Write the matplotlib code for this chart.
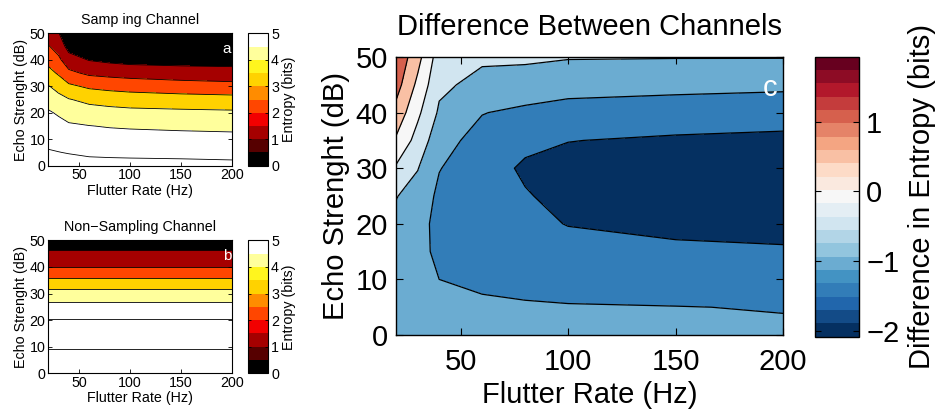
import numpy as np
import matplotlib
matplotlib.use("Agg")
import matplotlib.pyplot as plt
from matplotlib.colors import ListedColormap, Normalize
from matplotlib.cm import ScalarMappable

plt.rcParams['font.family'] = ['Liberation Sans', 'DejaVu Sans']
plt.rcParams['axes.unicode_minus'] = True
plt.rcParams['contour.negative_linestyle'] = 'solid'

# ---------------- data ----------------
flutter_rate = [20, 30, 40, 60, 80, 100, 150, 200]          # Hz
echo_strength = [0, 5, 10, 15, 20, 25, 30, 35, 40, 45, 50]  # dB

# Sampling channel entropy (bits); one list per flutter rate, values along echo strength
samp_20 = [6.4, 6.08, 5.75, 5.43, 5.11, 4.63, 4.06, 3.33, 2.67, 2.08, 1.48]
samp_30 = [6.4, 6.02, 5.66, 5.29, 4.89, 4.32, 3.65, 2.87, 2.2, 1.6, 1.05]
samp_40 = [6.37, 5.96, 5.55, 5.13, 4.61, 4.05, 3.19, 2.22, 1.41, 0.65, 0.2]
samp_60 = [6.29, 5.86, 5.44, 5.02, 4.43, 3.75, 2.83, 1.81, 0.95, 0.45, 0.15]
samp_80 = [6.27, 5.83, 5.39, 4.94, 4.34, 3.61, 2.69, 1.69, 0.78, 0.35, 0.1]
samp_100 = [6.26, 5.81, 5.37, 4.89, 4.27, 3.52, 2.59, 1.6, 0.66, 0.3, 0.1]
samp_150 = [6.25, 5.77, 5.32, 4.82, 4.21, 3.42, 2.43, 1.47, 0.6, 0.3, 0.1]
samp_200 = [6.2, 5.74, 5.28, 4.77, 4.16, 3.35, 2.32, 1.4, 0.57, 0.3, 0.1]

# Non-sampling channel entropy (bits): independent of flutter rate
nonsamp_rate = [20, 200]
nonsamp_profile = [7.4, 7.2, 6.96, 6.5, 6.08, 5.33, 4.4, 3.25, 2.0, 1.17, 0.5]

# Difference in entropy (bits)
diff_20 = [-0.8, -0.78, -0.75, -0.7, -0.62, -0.48, -0.07, 0.43, 0.83, 1.2, 1.4]
diff_30 = [-0.85, -0.86, -0.87, -0.86, -0.82, -0.7, -0.48, -0.19, 0.1, 0.385, 0.67]
diff_40 = [-0.8, -0.88, -1.0, -1.1, -1.15, -1.1, -0.98, -0.8, -0.57, -0.4, -0.25]
diff_60 = [-0.85, -0.93, -1.08, -1.2, -1.28, -1.32, -1.32, -1.2, -0.98, -0.65, -0.42]
diff_80 = [-0.88, -0.95, -1.15, -1.33, -1.43, -1.47, -1.56, -1.4, -1.12, -0.66, -0.44]
diff_100 = [-0.9, -0.97, -1.2, -1.4, -1.51, -1.62, -1.64, -1.49, -1.2, -0.8, -0.47]
diff_150 = [-0.92, -0.99, -1.25, -1.44, -1.58, -1.68, -1.7, -1.56, -1.25, -0.86, -0.48]
diff_200 = [-0.93, -1.02, -1.28, -1.46, -1.62, -1.72, -1.74, -1.6, -1.3, -0.9, -0.48]

entropy_levels = [0, 1, 2, 3, 4, 5, 6, 7, 8]
diff_levels = [-2, -1.5, -1, -0.5, 0, 0.5, 1, 1.5, 2]
entropy_ticks = [0, 1, 2, 3, 4, 5]
diff_ticks = [-2, -1, 0, 1]
rate_ticks = [50, 100, 150, 200]
echo_ticks = [0, 10, 20, 30, 40, 50]

hot_colors = ['#000000', '#560000', '#a50000', '#f20000', '#ff4600',
              '#ff8c00', '#ffd200', '#fff51e', '#ffff9c', '#ffffff']

# ---------------- figure ----------------
W, H = 938, 413
fig = plt.figure(figsize=(W / 100, H / 100), dpi=100)


def rect(l, t, r, b):
    return [l / W, 1 - b / H, (r - l) / W, (b - t) / H]


samp = np.array([samp_20, samp_30, samp_40, samp_60, samp_80, samp_100, samp_150, samp_200]).T
nonsamp = np.array([nonsamp_profile, nonsamp_profile]).T
diff = np.array([diff_20, diff_30, diff_40, diff_60, diff_80, diff_100, diff_150, diff_200]).T

hot_cmap = ListedColormap(hot_colors).with_extremes(over='#ffffff', under='#000000')
hot_norm = Normalize(0, 5)
rb_cmap = plt.get_cmap('RdBu_r', 21)
rb_norm = Normalize(-2.08, 1.93)

small_fs = 10.3
big_fs = 21


def style_small(ax):
    ax.set_xlim(20, 200)
    ax.set_ylim(0, 50)
    ax.set_xticks(rate_ticks)
    ax.set_yticks(echo_ticks)
    ax.tick_params(direction='in', top=True, right=True, length=3, width=0.6,
                   labelsize=small_fs, pad=2)
    for s in ax.spines.values():
        s.set_linewidth(0.8)
    ax.set_xlabel('Flutter Rate (Hz)', fontsize=small_fs, labelpad=1)
    ax.set_ylabel('Echo Strenght (dB)', fontsize=small_fs, labelpad=1)


def small_cbar(cax):
    sm = ScalarMappable(norm=hot_norm, cmap=hot_cmap)
    cb = fig.colorbar(sm, cax=cax, ticks=entropy_ticks)
    cb.outline.set_linewidth(0.8)
    cax.tick_params(direction='in', length=2, width=0.6, labelsize=small_fs, pad=2,
                    left=True, right=True)
    cb.set_label('Entropy (bits)', fontsize=small_fs, labelpad=2)


# Panel a
ax_a = fig.add_axes(rect(48.3, 33.3, 232.3, 165.7))
fill_a = [hot_cmap(hot_norm(v)) for v in entropy_levels[:-1]]
ax_a.contourf(flutter_rate, echo_strength, samp, levels=entropy_levels, colors=fill_a)
ax_a.contour(flutter_rate, echo_strength, samp, levels=entropy_levels[1:-1],
             colors='k', linewidths=0.6, linestyles='solid')
style_small(ax_a)
ax_a.set_title('Samp ing Channel', fontsize=small_fs, pad=7)
ax_a.text(0.97, 0.885, 'a', transform=ax_a.transAxes, color='white',
          fontsize=11, ha='center', va='center')
small_cbar(fig.add_axes(rect(248.3, 33.3, 268.3, 165.7)))

# Panel b
ax_b = fig.add_axes(rect(48.3, 240.3, 232.3, 373.3))
ax_b.contourf(nonsamp_rate, echo_strength, nonsamp, levels=entropy_levels, colors=fill_a)
ax_b.contour(nonsamp_rate, echo_strength, nonsamp, levels=entropy_levels[1:-1],
             colors='k', linewidths=0.6, linestyles='solid')
style_small(ax_b)
ax_b.set_title('Non\u2212Sampling Channel', fontsize=small_fs, pad=7)
ax_b.text(0.97, 0.885, 'b', transform=ax_b.transAxes, color='white',
          fontsize=11, ha='center', va='center')
small_cbar(fig.add_axes(rect(248.3, 240.3, 268.3, 373.3)))

# Main panel c
ax_c = fig.add_axes(rect(396.2, 57, 783, 335))
fill_c = [rb_cmap(rb_norm(v)) for v in diff_levels[:-1]]
ax_c.contourf(flutter_rate, echo_strength, diff, levels=diff_levels, colors=fill_c)
ax_c.contour(flutter_rate, echo_strength, diff, levels=diff_levels[1:-1],
             colors='k', linewidths=0.9, linestyles='solid')
ax_c.set_xlim(20, 200)
ax_c.set_ylim(0, 50)
ax_c.set_xticks(rate_ticks)
ax_c.set_yticks(echo_ticks)
ax_c.tick_params(direction='in', top=True, right=True, length=5, width=0.8,
                 labelsize=big_fs, pad=6)
ax_c.tick_params(axis='x', pad=9)
for s in ax_c.spines.values():
    s.set_linewidth(1.0)
ax_c.set_xlabel('Flutter Rate (Hz)', fontsize=big_fs, labelpad=4)
ax_c.set_ylabel('Echo Strenght (dB)', fontsize=big_fs, labelpad=4)
ax_c.set_title('Difference Between Channels', fontsize=big_fs, pad=16)
ax_c.text(0.966, 0.888, 'c', transform=ax_c.transAxes, color='white',
          fontsize=big_fs, ha='center', va='center')

cax_c = fig.add_axes(rect(815, 56.7, 859.3, 336.7))
sm_c = ScalarMappable(norm=rb_norm, cmap=rb_cmap)
cb_c = fig.colorbar(sm_c, cax=cax_c, ticks=diff_ticks)
cb_c.outline.set_linewidth(1.0)
cax_c.tick_params(direction='in', length=4, width=0.8, labelsize=big_fs, pad=5,
                  left=True, right=True)
cb_c.set_label('Difference in Entropy (bits)', fontsize=big_fs, labelpad=6)

fig.savefig('out.png', dpi=100)
